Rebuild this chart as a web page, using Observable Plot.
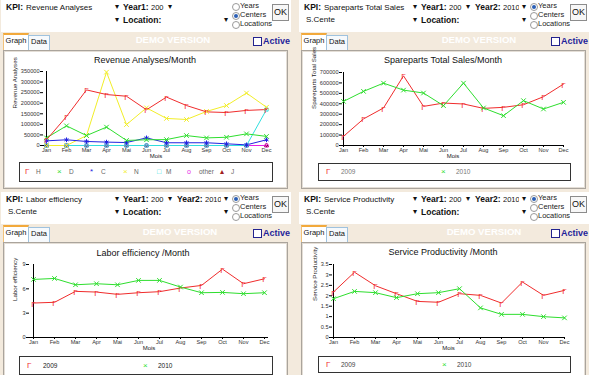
<!DOCTYPE html>
<html><head><meta charset="utf-8">
<script src="https://cdn.jsdelivr.net/npm/d3@7"></script>
<script src="https://cdn.jsdelivr.net/npm/@observablehq/plot@0.6"></script>
<style>
body{margin:0;width:589px;height:375px;overflow:hidden;background:#f3eadd;font-family:"Liberation Sans",Arial,sans-serif;position:relative;color:#111}
.a{position:absolute;white-space:nowrap;line-height:10px}
.hdr{position:absolute;background:#fff}
.frame{position:absolute;background:#fff;border:1px solid #aaa49c;box-shadow:inset 0 0 0 1px #e4ded6}
.b{font-weight:bold}
.radio{position:absolute;width:6px;height:6px;border:1px solid #9a9a9a;border-radius:50%;background:#fff}
.radio.on::after{content:"";position:absolute;left:1px;top:1px;width:4px;height:4px;border-radius:50%;background:#2b5fb5}
.ok{position:absolute;width:15px;height:15px;border:1px solid #8c8c8c;background:#f7f7f7;font-size:9px;line-height:15px;text-align:center}
.tabG{position:absolute;background:#fff;border-top:2px solid #f2a93b;border-left:1px solid #f2c27a;border-right:1px solid #b9cde0;font-size:7.5px;line-height:12px;text-align:center}
.tabD{position:absolute;background:#f6f9fc;border:1px solid #9fc2de;border-bottom:none;font-size:7.5px;line-height:11px;text-align:center}
.chk{position:absolute;width:7px;height:7px;border:1px solid #23238f;background:#fff}
.legend{position:absolute;background:#fff;border:1px solid #333}
svg{overflow:visible}
</style>
</head><body>
<script>
// ---------- data ----------
const months = ["Jan","Feb","Mar","Apr","Mai","Jun","Jul","Aug","Sep","Oct","Nov","Dec"];

const revSeriesNames = ["H","D","C","N","M","other","J"];
const revH = [27000,137000,263000,241000,233000,169000,229000,189000,159000,156000,166000,170000];
const revD = [36000,93000,47000,87000,24000,27000,28000,47000,36000,39000,55000,43000];
const revC = [22000,27000,19000,16000,14000,36000,13000,13000,13000,8000,3000,27000];
const revN = [0,0,47000,347000,99000,178000,128000,123000,161000,189000,248000,181000];
const revM = [0,0,0,0,0,0,0,0,0,0,0,170000];
const revOther = [0,0,0,0,0,0,0,0,0,0,0,0];
const revJ = [0,0,0,0,0,0,0,0,0,0,0,0];
const revTicks = [0,50000,100000,150000,200000,250000,300000,350000];

const yearNames = ["2009","2010"];
const spare2009 = [88000,255000,360000,668000,375000,407000,398000,356000,366000,391000,468000,589000];
const spare2010 = [423000,519000,598000,531000,503000,382000,598000,360000,286000,430000,350000,414000];
const spareTicks = [0,100000,200000,300000,400000,500000,600000,700000];

const labor2009 = [4.25,4.34,5.69,5.6,5.32,5.52,5.65,6.1,6.42,8.43,6.63,7.24];
const labor2010 = [7.16,7.28,6.5,6.63,6.5,7.04,7.04,6.22,5.52,5.56,5.4,5.52];
const laborTicks = [0,3,6,9];

const serv2009 = [2.18,3.13,2.48,2.1,1.73,1.69,2.1,2.02,1.65,2.66,2.02,2.26];
const serv2010 = [1.86,2.21,2.15,1.91,2.1,2.15,2.34,1.42,1.11,1.11,1.0,0.94];
const servTicks = [0,0.5,1,1.5,2,2.5,3,3.5];

const kpiNames = ["Revenue Analyses","Spareparts Total Sales","Labor efficiency","Service Productivity"];
const chartTitles = ["Revenue Analyses/Month","Spareparts Total Sales/Month","Labor efficiency /Month","Service Productivity /Month"];
const yTitles = ["Revenue Analyses","Spareparts Total Sales","Labor efficiency","Service Productivity"];
const xTitle = "Mois";
const radioLabels = ["Years","Centers","Locations"];

// ---------- helpers ----------
const body = document.body;
function el(cls, x, y, html, style){
  const d = document.createElement("div");
  d.className = cls; d.style.left = x+"px"; d.style.top = y+"px";
  if (html !== undefined) d.innerHTML = html;
  if (style) Object.assign(d.style, style);
  body.appendChild(d); return d;
}

function panel(ox, oy, idx, showYear2, showCenter, radioSel, demoX, frameH){
  el("hdr", ox+1, oy, undefined, {width:"290px", height:"32px"});
  el("a b", ox+6, oy+2, "KPI:", {fontSize:"8.5px"});
  el("a", ox+26, oy+3, kpiNames[idx], {fontSize:"8px"});
  el("a", ox+115, oy+2, "&#9662;", {fontSize:"8px"});
  el("a b", ox+123, oy+2, "Year1:", {fontSize:"8.5px"});
  el("a", ox+151, oy+3, "200", {fontSize:"7.5px"});
  el("a", ox+168, oy+2, "&#9662;", {fontSize:"8px"});
  if (showYear2){
    el("a b", ox+177, oy+2, "Year2:", {fontSize:"8.5px"});
    el("a", ox+205, oy+3, "2010", {fontSize:"7.5px", width:"16px", overflow:"hidden"});
    el("a", ox+224, oy+2, "&#9662;", {fontSize:"8px"});
  }
  radioLabels.forEach((t,i)=>{
    el("radio"+(i===radioSel?" on":""), ox+232, oy+3+i*9);
    el("a", ox+240, oy+1+i*9, t, {fontSize:"7.5px", color:"#222"});
  });
  el("ok", ox+272, oy+4, "OK");
  if (showCenter) el("a", ox+8, oy+15, "S.Cente", {fontSize:"8px"});
  el("a", ox+115, oy+15, "&#9662;", {fontSize:"8px"});
  el("a b", ox+123, oy+15, "Location:", {fontSize:"8.5px"});
  el("a", ox+224, oy+15, "&#9662;", {fontSize:"8px"});
  el("tabG", ox+3, oy+33, "Graph", {width:"24px", height:"16px"});
  el("tabD", ox+28, oy+35, "Data", {width:"20px", height:"14px"});
  el("a b", demoX-38, oy+35, "DEMO VERSION", {fontSize:"9.6px", color:"#fff", width:"76px", textAlign:"center"});
  el("chk", ox+253, oy+37);
  el("a b", ox+263, oy+36, "Active", {fontSize:"9px", color:"#1f1f9a"});
  el("frame", ox+3, oy+50, undefined, {width:"283px", height:frameH+"px"});
}

function chart(cfg){
  const mL=42, mR=14, mT=7, mB=22;
  const marks = [
    Plot.ruleX([months[0]], {stroke:"#000", strokeWidth:1}),
    Plot.ruleY([0], {stroke:"#000", strokeWidth:1}),
    Plot.axisY({ticks: cfg.ticks, tickFormat: d => String(d), tickSize: 3, tickPadding: 1, label: null, stroke:"#000"}),
    Plot.axisX({tickSize: 2, tickPadding: 1, label: null, stroke:"#000"}),
    Plot.text([cfg.ytitle], {frameAnchor:"left", rotate:-90, dx: -(cfg.x0 - cfg.ytx), fontSize: 6.2, fill:"#222"}),
    Plot.text([xTitle], {frameAnchor:"bottom", dy: 12, fontSize: 6, fill:"#222"})
  ];
  const drawOrder = cfg.reverseDraw ? cfg.series.slice().reverse() : cfg.series;
  drawOrder.forEach(s=>{
    marks.push(Plot.line(s.values, {x:(d,i)=>months[i], y:d=>d, stroke:s.color, strokeWidth:1}));
  });
  drawOrder.forEach(s=>{
    if (s.glyph) marks.push(Plot.text(s.values, {x:(d,i)=>months[i], y:d=>d, text:()=>s.glyph, fill:s.color, fontSize:s.gs||8, dy:1}));
    else marks.push(Plot.dot(s.values, {x:(d,i)=>months[i], y:d=>d, symbol:s.symbol, stroke:s.color, r:s.r||2.2, strokeWidth:1}));
  });
  const p = Plot.plot({
    width: cfg.x1 - cfg.x0 + mL + mR,
    height: cfg.y0 - cfg.y1 + mT + mB,
    marginLeft: mL, marginRight: mR, marginTop: mT, marginBottom: mB,
    x: {type:"point", domain: months, padding: 0},
    y: {domain: cfg.domain},
    style: {background:"transparent", fontFamily:"'Liberation Sans', Arial, sans-serif", fontSize:"5.6px", color:"#333", overflow:"visible"},
    marks
  });
  p.style.position = "absolute";
  p.style.left = (cfg.x0 - mL) + "px";
  p.style.top = (cfg.y1 - mT) + "px";
  body.appendChild(p);
  el("a", cfg.tx - 100, cfg.ty - 5, cfg.title, {fontSize:"9px", width:"200px", textAlign:"center", color:"#111"});
  const lg = el("legend", cfg.lx, cfg.ly, undefined, {width:cfg.lw+"px", height:cfg.lh+"px"});
  cfg.series.forEach((s,i)=>{
    const m = document.createElement("div");
    m.className="a"; m.style.left=(cfg.legPos[i][0]-cfg.lx-3)+"px"; m.style.top=(cfg.lh/2-5)+"px";
    m.style.color=s.color; m.style.fontSize=(s.lgs||8)+"px"; m.textContent = s.lglyph;
    lg.appendChild(m);
    const t = document.createElement("div");
    t.className="a"; t.style.left=(cfg.legPos[i][1]-cfg.lx)+"px"; t.style.top=(cfg.lh/2-5)+"px";
    t.style.color=cfg.legColor; t.style.fontSize="6.5px"; t.textContent = s.name;
    lg.appendChild(t);
  });
}

panel(0, 0, 0, false, false, 1, 173, 137);
panel(298, 0, 1, true, true, 0, 479, 137);
panel(0, 192, 2, true, true, 0, 180, 140);
panel(298, 192, 3, true, true, 0, 484, 140);

const RED="#f02c2c", GREEN="#2ede2e";

chart({
  x0:43, x1:268, y0:145, y1:71, ytx:15, domain:[0,350000], ticks:revTicks,
  ytitle:yTitles[0], title:chartTitles[0], tx:145, ty:60,
  lx:19, ly:162, lw:252, lh:18, legColor:"#666", reverseDraw:true,
  legPos:[[27,35],[59,68],[92,100],[125,133],[159,165],[189,198],[222,230]],
  series:[
    {name:revSeriesNames[0], values:revH, color:RED, glyph:"\u0393", lglyph:"\u0393"},
    {name:revSeriesNames[1], values:revD, color:GREEN, symbol:"times", lglyph:"\u00D7"},
    {name:revSeriesNames[2], values:revC, color:"#2323e0", symbol:"asterisk", lglyph:"*"},
    {name:revSeriesNames[3], values:revN, color:"#f2ee28", symbol:"times", lglyph:"\u00D7"},
    {name:revSeriesNames[4], values:revM, color:"#30dede", symbol:"square", r:1.8, lglyph:"\u25A1", lgs:7},
    {name:revSeriesNames[5], values:revOther, color:"#e61ee6", symbol:"circle", r:1.8, lglyph:"o", lgs:7},
    {name:revSeriesNames[6], values:revJ, color:"#a02020", symbol:"triangle", r:1.6, lglyph:"\u25B4"}
  ]
});

chart({
  x0:342, x1:563, y0:145, y1:72, ytx:314, domain:[0,700000], ticks:spareTicks,
  ytitle:yTitles[1], title:chartTitles[1], tx:443, ty:60,
  lx:318, ly:163, lw:251, lh:16, legColor:"#777",
  legPos:[[328,340],[443,455]],
  series:[
    {name:yearNames[0], values:spare2009, color:RED, glyph:"\u0393", lglyph:"\u0393"},
    {name:yearNames[1], values:spare2010, color:GREEN, symbol:"times", lglyph:"\u00D7"}
  ]
});

chart({
  x0:29, x1:268, y0:337, y1:264, ytx:15, domain:[0,9], ticks:laborTicks,
  ytitle:yTitles[2], title:chartTitles[2], tx:143, ty:253,
  lx:19, ly:356, lw:252, lh:17, legColor:"#222",
  legPos:[[29,42],[145,157]],
  series:[
    {name:yearNames[0], values:labor2009, color:RED, glyph:"\u0393", lglyph:"\u0393"},
    {name:yearNames[1], values:labor2010, color:GREEN, symbol:"times", lglyph:"\u00D7"}
  ]
});

chart({
  x0:332, x1:564, y0:337, y1:264, ytx:315, domain:[0,3.5], ticks:servTicks,
  ytitle:yTitles[3], title:chartTitles[3], tx:443, ty:252,
  lx:318, ly:356, lw:251, lh:15, legColor:"#444",
  legPos:[[328,340],[444,456]],
  series:[
    {name:yearNames[0], values:serv2009, color:RED, glyph:"\u0393", lglyph:"\u0393"},
    {name:yearNames[1], values:serv2010, color:GREEN, symbol:"times", lglyph:"\u00D7"}
  ]
});
</script>
</body></html>
